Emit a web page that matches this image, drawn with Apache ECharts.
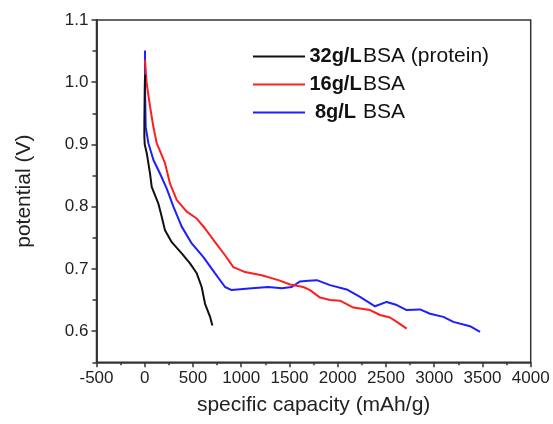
<!DOCTYPE html>
<html>
<head>
<meta charset="utf-8">
<script src="https://cdn.jsdelivr.net/npm/echarts@6/dist/echarts.min.js"></script>
<style>html,body{margin:0;padding:0;background:#fff}#c{width:553px;height:424px}</style>
</head>
<body>
<div id="c"></div>
<script>
// ---- data ----
const seriesNames = ['32g/L|BSA (protein)', '16g/L|BSA', '8g/L|BSA'];
const seriesColors = ['#111111', '#ff1e1e', '#1e1eff'];

const cap32 = [3, 0, -2, -4, -4, 0, 21, 55, 72, 141, 176, 210, 280, 383, 469, 539, 590, 625, 677, 701];
const pot32 = [1.012, 0.99, 0.96, 0.935, 0.912, 0.90, 0.886, 0.853, 0.832, 0.805, 0.784, 0.762, 0.743, 0.725, 0.709, 0.693, 0.671, 0.644, 0.623, 0.609];

const cap16 = [3, 20, 55, 90, 124, 210, 262, 331, 435, 539, 625, 729, 832, 918, 1040, 1212, 1385, 1506, 1644, 1713, 1817, 1920, 2024, 2162, 2335, 2439, 2542, 2612, 2715];
const pot16 = [1.036, 0.998, 0.961, 0.928, 0.902, 0.870, 0.837, 0.811, 0.792, 0.781, 0.765, 0.743, 0.722, 0.703, 0.695, 0.690, 0.682, 0.675, 0.671, 0.666, 0.654, 0.650, 0.649, 0.638, 0.634, 0.626, 0.622, 0.615, 0.604];

const cap8 = [3, 3, 10, 38, 90, 159, 228, 297, 383, 487, 608, 729, 832, 901, 1109, 1281, 1420, 1523, 1610, 1696, 1783, 1920, 2093, 2231, 2387, 2508, 2612, 2715, 2853, 2957, 3095, 3198, 3371, 3475];
const pot8 = [1.051, 0.987, 0.928, 0.902, 0.875, 0.853, 0.829, 0.800, 0.768, 0.741, 0.719, 0.693, 0.671, 0.666, 0.669, 0.671, 0.669, 0.671, 0.680, 0.681, 0.682, 0.674, 0.667, 0.655, 0.640, 0.647, 0.642, 0.634, 0.635, 0.628, 0.623, 0.615, 0.608, 0.599];

const yMajorTicks = [0.6, 0.7, 0.8, 0.9, 1.0, 1.1];
const yMinorTicks = [0.55, 0.65, 0.75, 0.85, 0.95, 1.05];
const xMin = -500, xMax = 4000, xStep = 500;
const yMin = 0.55, yMax = 1.1;

// ---- chart ----
const zip = (a, b) => a.map((v, i) => [v, b[i]]);
const allData = [zip(cap32, pot32), zip(cap16, pot16), zip(cap8, pot8)];
const FONT = 'Liberation Sans, Arial, sans-serif';
const axisColor = '#333';

const chart = echarts.init(document.getElementById('c'), null, {renderer: 'canvas'});
chart.setOption({
  animation: false,
  backgroundColor: '#fff',
  grid: {left: 96.5, right: 22.3, top: 20, bottom: 61.7, show: true, borderColor: axisColor, borderWidth: 1.5, containLabel: false},
  legend: {
    left: 253, top: 46, orient: 'vertical', padding: 0, itemWidth: 52, itemHeight: 14, itemGap: 7,
    icon: 'path://M0,6 L52,6 L52,8 L0,8 Z',
    data: seriesNames,
    formatter: n => { const p = n.split('|'); return '{b|' + p[0] + '}{n|' + p[1] + '}'; },
    textStyle: {
      fontFamily: FONT, color: '#111',
      rich: {
        b: {fontFamily: FONT, fontSize: 20, fontWeight: 'bold', color: '#111', width: 51, align: 'right'},
        n: {fontFamily: FONT, fontSize: 21, color: '#111', padding: [0, 0, 0, 2]}
      }
    }
  },
  xAxis: {
    type: 'value', min: xMin, max: xMax, interval: xStep,
    name: 'specific capacity (mAh/g)', nameLocation: 'middle', nameGap: 32,
    nameTextStyle: {fontFamily: FONT, fontSize: 21, color: '#222'},
    axisLine: {show: true, onZero: false, lineStyle: {color: axisColor, width: 1.5}},
    axisTick: {show: true, length: 5, lineStyle: {color: axisColor, width: 1.5}},
    minorTick: {show: true, splitNumber: 2, length: 3, lineStyle: {color: axisColor, width: 1.5}},
    axisLabel: {fontFamily: FONT, fontSize: 17, color: '#222', margin: 8, formatter: v => String(v)},
    splitLine: {show: false}
  },
  yAxis: [{
    type: 'value', min: yMin, max: yMax, position: 'left',
    name: 'potential (V)', nameLocation: 'middle', nameGap: 62, nameRotate: 90,
    nameTextStyle: {fontFamily: FONT, fontSize: 21, color: '#222'},
    axisLine: {show: true, onZero: false, lineStyle: {color: axisColor, width: 1.5}},
    axisTick: {show: true, length: 5, customValues: yMajorTicks, lineStyle: {color: axisColor, width: 1.5}},
    axisLabel: {fontFamily: FONT, fontSize: 17, color: '#222', margin: 8, customValues: yMajorTicks, formatter: v => v.toFixed(1)},
    splitLine: {show: false}
  }, {
    type: 'value', min: yMin, max: yMax, position: 'left', offset: 0,
    axisLine: {show: true, onZero: false, lineStyle: {color: axisColor, width: 1.5}},
    axisTick: {show: true, length: 4, customValues: yMinorTicks, lineStyle: {color: axisColor, width: 1.5}},
    axisLabel: {show: false},
    splitLine: {show: false}
  }],
  series: seriesNames.map((n, i) => ({
    name: n, type: 'line', yAxisIndex: 0, data: allData[i],
    symbol: 'none', showSymbol: false, smooth: false,
    lineStyle: {color: seriesColors[i], width: 2},
    itemStyle: {color: seriesColors[i]},
    z: 3 - i
  }))
});
</script>
</body>
</html>
